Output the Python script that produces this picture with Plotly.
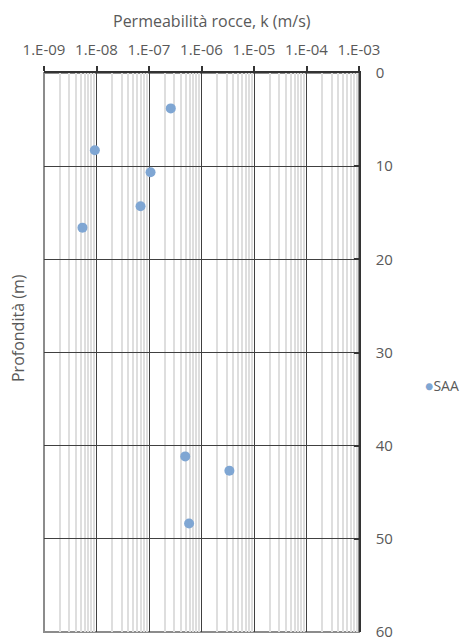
import plotly.graph_objects as go

# Data
permeability = [2.6e-7, 9.3e-9, 1.07e-7, 6.9e-8, 5.4e-9, 4.9e-7, 3.4e-6, 5.8e-7]
depth = [3.8, 8.3, 10.65, 14.3, 16.6, 41.15, 42.7, 48.35]
series_name = "SAA"

x_tickvals = [1e-9, 1e-8, 1e-7, 1e-6, 1e-5, 1e-4, 1e-3]
x_ticktext = ["1.E-09", "1.E-08", "1.E-07", "1.E-06", "1.E-05", "1.E-04", "1.E-03"]
y_tickvals = [0, 10, 20, 30, 40, 50, 60]

minor_vals = [m * d for d in x_tickvals[:-1] for m in range(2, 10)]

font_family = "'Open Sans', Lato, sans-serif"
txt_color = "#595959"
marker_color = "#7fa6d3"

# figure-pixel geometry (page body adds an 8px offset)
L, R, T, B = 36, 119, 65, 13
W, H = 470, 637
PW, PH = W - L - R, H - T - B


def px_x(x):
    return (x - L) / PW


def px_y(y):
    return 1 - (y - T) / PH


fig = go.Figure()
fig.add_trace(go.Scatter(
    x=permeability, y=depth, mode="markers", name=series_name,
    marker=dict(color=marker_color, size=10),
    showlegend=False,
))

fig.update_layout(
    width=W, height=H,
    margin=dict(l=L, r=R, t=T, b=B, autoexpand=False),
    paper_bgcolor="white", plot_bgcolor="white",
    font=dict(family=font_family, size=14, color=txt_color),
    showlegend=False,
    xaxis=dict(
        type="log", side="top", range=[-9, -3], automargin=False,
        tickvals=x_tickvals, ticktext=x_ticktext,
        ticks="outside", ticklen=5, tickcolor="#333333", tickwidth=1.5,
        ticklabelstandoff=5,
        showline=True, linecolor="#333333", linewidth=1.5,
        showgrid=True, gridcolor="#404040", gridwidth=1,
        minor=dict(tickvals=minor_vals, showgrid=True, gridcolor="#dedede", gridwidth=1.5, ticks=""),
        tickfont=dict(size=15, color=txt_color),
        zeroline=False,
    ),
    yaxis=dict(
        range=[60, 0], side="right", automargin=False,
        tickvals=y_tickvals,
        ticks="inside", ticklen=5, tickcolor="#333333", tickwidth=1.5,
        ticklabelstandoff=12,
        showline=True, linecolor="#333333", linewidth=1.5,
        showgrid=True, gridcolor="#404040", gridwidth=1,
        tickfont=dict(size=15, color=txt_color),
        zeroline=False,
    ),
    shapes=[dict(type="rect", xref="x domain", yref="y domain", x0=0, x1=1, y0=0, y1=1,
                 line=dict(color="#8c8c8c", width=2), layer="below")],
    annotations=[
        dict(text="Permeabilità rocce, k (m/s)", xref="paper", yref="paper",
             x=px_x(204), y=px_y(13), xanchor="center", yanchor="middle",
             showarrow=False, font=dict(size=16, color=txt_color)),
        dict(text="Profondità (m)", xref="paper", yref="paper",
             x=px_x(10), y=px_y(320), xanchor="center", yanchor="middle",
             textangle=-90, showarrow=False,
             font=dict(size=16, color=txt_color)),
        dict(text='<span style="color:%s">●</span>%s' % (marker_color, series_name),
             xref="paper", yref="paper",
             x=px_x(415), y=px_y(377), xanchor="left", yanchor="middle",
             showarrow=False, font=dict(size=14, color=txt_color)),
    ],
)

fig.write_html("out.html")
